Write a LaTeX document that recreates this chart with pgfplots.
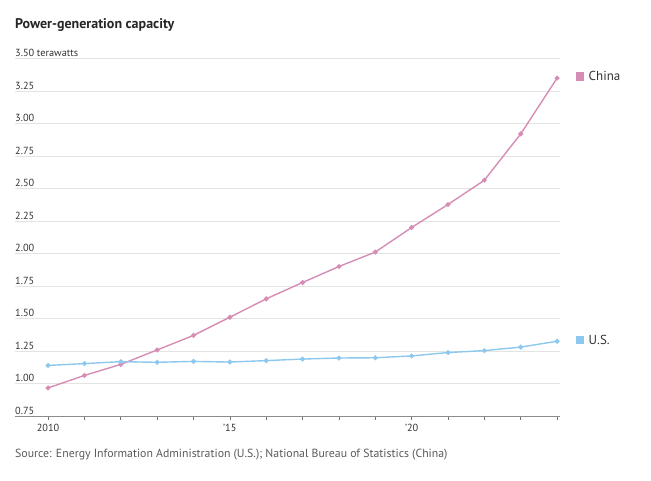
\documentclass[border=0pt]{standalone}
\usepackage{pgfplots}
\pgfplotsset{compat=1.18}
\usepackage{fontspec}
\setmainfont{PT Sans}
\definecolor{chinac}{HTML}{D68DB5}
\definecolor{usc}{HTML}{8DC8EE}
\definecolor{gridc}{HTML}{E3E3E3}
\definecolor{txtc}{HTML}{333333}
\begin{document}
\begin{tikzpicture}
\path (0pt,0pt) rectangle (651pt,481pt);
\node[anchor=west,font=\bfseries\fontsize{14}{16}\selectfont,text=black!85,inner sep=0pt] at (15pt,456pt) {Power-generation capacity};
\node[anchor=west,font=\fontsize{11.8}{14}\selectfont,text=black!65,inner sep=0pt] at (15pt,26pt) {Source: Energy Information Administration (U.S.); National Bureau of Statistics (China)};
\begin{axis}[
  at={(15pt,65pt)}, anchor=south west,
  scale only axis, width=545pt, height=357.5pt,
  xmin=2009.09, xmax=2024.08,
  ymin=0.75, ymax=3.5,
  axis x line*=bottom, axis y line*=left,
  y axis line style={draw=none},
  x axis line style={draw=black!45, line width=0.6pt},
  xtick={2010,...,2024},
  xticklabels={2010,,,,,’15,,,,,’20,,,,},
  xtick align=outside,
  major tick length=4pt,
  x tick style={draw=black!55, line width=0.6pt},
  ytick={0.75,1,1.25,1.5,1.75,2,2.25,2.5,2.75,3,3.25,3.5},
  yticklabels={0.75,1.00,1.25,1.50,1.75,2.00,2.25,2.50,2.75,3.00,3.25,3.50 terawatts},
  y tick style={draw=none},
  ymajorgrids, grid style={draw=gridc, line width=0.8pt},
  yticklabel style={anchor=south west, inner xsep=0pt, inner ysep=1.5pt, font=\fontsize{10.3}{12}\selectfont, text=txtc},
  xticklabel style={font=\fontsize{10.3}{12}\selectfont, text=txtc, yshift=-1pt},
  clip=false,
]
\addplot[color=chinac, line width=1.4pt, mark=*, mark size=1.7pt] coordinates {
(2010,0.966) (2011,1.062) (2012,1.147) (2013,1.258) (2014,1.370) (2015,1.510) (2016,1.651) (2017,1.777) (2018,1.900) (2019,2.011) (2020,2.200) (2021,2.377) (2022,2.564) (2023,2.920) (2024,3.349)};
\addplot[color=usc, line width=1.4pt, mark=*, mark size=1.7pt] coordinates {
(2010,1.139) (2011,1.153) (2012,1.168) (2013,1.163) (2014,1.170) (2015,1.165) (2016,1.176) (2017,1.188) (2018,1.196) (2019,1.198) (2020,1.212) (2021,1.238) (2022,1.253) (2023,1.280) (2024,1.325)};
\node[fill=chinac, minimum size=8.5pt, inner sep=0pt, xshift=23pt] (cs) at (axis cs:2024,3.362) {};
\node[anchor=west, font=\fontsize{13}{15}\selectfont, text=txtc, inner xsep=4pt] at (cs.east) {China};
\node[fill=usc, minimum size=8.5pt, inner sep=0pt, xshift=23pt] (us) at (axis cs:2024,1.335) {};
\node[anchor=west, font=\fontsize{13}{15}\selectfont, text=txtc, inner xsep=4pt] at (us.east) {U.S.};
\end{axis}
\end{tikzpicture}
\end{document}
